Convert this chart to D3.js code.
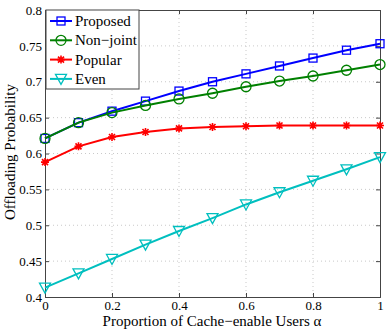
<!DOCTYPE html>
<html>
<head>
<meta charset="utf-8">
<script src="https://cdn.jsdelivr.net/npm/d3@7"></script>
<style>
  body { margin: 0; background: #fff; }
</style>
</head>
<body>
<svg id="chart" width="388" height="331"></svg>
<script>
"use strict";

let alphas = [0, 0.1, 0.2, 0.3, 0.4, 0.5, 0.6, 0.7, 0.8, 0.9, 1];
let proposed = [0.621, 0.643, 0.659, 0.673, 0.687, 0.700, 0.711, 0.722, 0.733, 0.744, 0.753];
let nonJoint = [0.621, 0.643, 0.657, 0.667, 0.676, 0.684, 0.693, 0.701, 0.708, 0.716, 0.724];
let popular  = [0.588, 0.610, 0.623, 0.630, 0.635, 0.637, 0.638, 0.639, 0.639, 0.639, 0.639];
let even     = [0.413, 0.433, 0.453, 0.473, 0.492, 0.510, 0.529, 0.546, 0.562, 0.578, 0.595];
let seriesNames = ["Proposed", "Non\u2212joint", "Popular", "Even"];
let xTicks = [0, 0.2, 0.4, 0.6, 0.8, 1];
let yTicks = [0.4, 0.45, 0.5, 0.55, 0.6, 0.65, 0.7, 0.75, 0.8];

var padL = 45, padR = 380, padT = 10, padB = 297;
var serif = "Liberation Serif, Times New Roman, serif";

var svg = d3.select("#chart");

var x = d3.scaleLinear().domain([0, 1]).range([padL, padR]);
var y = d3.scaleLinear().domain([0.4, 0.8]).range([padB, padT]);

// dotted grid
svg.append("g").selectAll("line").data(xTicks.slice(1, -1))
  .enter().append("line")
    .attr("x1", d => x(d)).attr("x2", d => x(d))
    .attr("y1", padT).attr("y2", padB)
    .attr("stroke", "#bbb").attr("stroke-width", 0.8)
    .attr("stroke-dasharray", "1,3");
svg.append("g").selectAll("line").data(yTicks.slice(1, -1))
  .enter().append("line")
    .attr("x1", padL).attr("x2", padR)
    .attr("y1", d => y(d)).attr("y2", d => y(d))
    .attr("stroke", "#bbb").attr("stroke-width", 0.8)
    .attr("stroke-dasharray", "1,3");

// axes
svg.append("g").attr("transform", "translate(0," + padB + ")")
  .call(d3.axisBottom(x).tickValues(xTicks).tickSize(-4).tickPadding(4)
        .tickFormat(d3.format("~g")));
svg.append("g").attr("transform", "translate(" + padL + ",0)")
  .call(d3.axisLeft(y).tickValues(yTicks).tickSize(-4).tickPadding(3)
        .tickFormat(d3.format("~g")));
svg.append("g").attr("transform", "translate(0," + padT + ")")
  .call(d3.axisTop(x).tickValues(xTicks).tickSize(-4).tickFormat(""));
svg.append("g").attr("transform", "translate(" + padR + ",0)")
  .call(d3.axisRight(y).tickValues(yTicks).tickSize(-4).tickFormat(""));

svg.selectAll("g").attr("font-family", serif);
svg.selectAll(".domain").attr("stroke", "#444");
svg.selectAll(".tick line").attr("stroke", "#444");
svg.selectAll(".tick text")
  .attr("font-family", serif).attr("font-size", 13).attr("fill", "#000");

// axis titles
svg.append("text")
  .attr("x", 212).attr("y", 326)
  .attr("text-anchor", "middle")
  .attr("font-family", serif).attr("font-size", 15)
  .text("Proportion of Cache\u2212enable Users \u03b1");
svg.append("text")
  .attr("transform", "translate(15,152) rotate(-90)")
  .attr("text-anchor", "middle")
  .attr("font-family", serif).attr("font-size", 15)
  .text("Offloading Probability");

var series = [
  { name: seriesNames[0], values: proposed, color: "#0000ff", marker: "square" },
  { name: seriesNames[1], values: nonJoint, color: "#008000", marker: "circle" },
  { name: seriesNames[2], values: popular,  color: "#ff0000", marker: "star" },
  { name: seriesNames[3], values: even,     color: "#00bfbf", marker: "triangle" }
];

function drawMarker(g, type, color) {
  if (type === "square") {
    g.append("rect").attr("x", -4).attr("y", -4).attr("width", 8).attr("height", 8)
      .attr("fill", "none").attr("stroke", color).attr("stroke-width", 1.3);
  } else if (type === "circle") {
    g.append("circle").attr("r", 5)
      .attr("fill", "none").attr("stroke", color).attr("stroke-width", 1.3);
  } else if (type === "triangle") {
    g.append("path").attr("d", "M-5.5,-4.5L5.5,-4.5L0,5.5Z")
      .attr("fill", "none").attr("stroke", color).attr("stroke-width", 1.3);
  } else {
    g.append("path")
      .attr("d", "M-4,0L4,0M0,-4L0,4M-3,-3L3,3M-3,3L3,-3")
      .attr("fill", "none").attr("stroke", color).attr("stroke-width", 1.6);
  }
}

var line = d3.line().x((d, i) => x(alphas[i])).y(d => y(d));

series.forEach(function(s) {
  svg.append("path").datum(s.values)
    .attr("d", line)
    .attr("fill", "none")
    .attr("stroke", s.color)
    .attr("stroke-width", 2);
  svg.append("g").selectAll("g").data(s.values)
    .enter().append("g")
      .attr("transform", (d, i) => "translate(" + x(alphas[i]) + "," + y(d) + ")")
      .each(function() { drawMarker(d3.select(this), s.marker, s.color); });
});

// legend
var legend = svg.append("g");
legend.append("rect")
  .attr("x", 46).attr("y", 10).attr("width", 93).attr("height", 79)
  .attr("fill", "#fff").attr("stroke", "#444").attr("stroke-width", 1);
series.forEach(function(s, i) {
  var ly = 21 + i * 19.3;
  legend.append("line").attr("x1", 50).attr("x2", 72).attr("y1", ly).attr("y2", ly)
    .attr("stroke", s.color).attr("stroke-width", 2);
  var m = legend.append("g").attr("transform", "translate(61," + ly + ")");
  drawMarker(m, s.marker, s.color);
  legend.append("text").attr("x", 75).attr("y", ly + 5)
    .attr("font-family", serif).attr("font-size", 15).text(s.name);
});
</script>
</body>
</html>
